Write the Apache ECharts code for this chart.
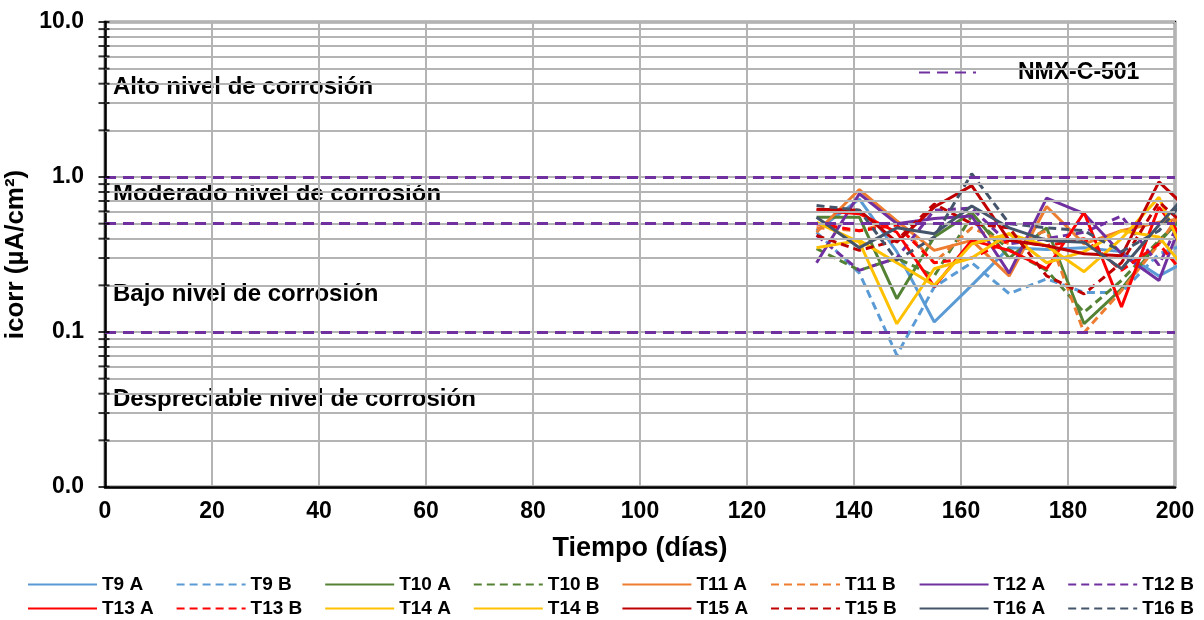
<!DOCTYPE html>
<html><head><meta charset="utf-8">
<script src="https://cdn.jsdelivr.net/npm/echarts@6/dist/echarts.min.js"></script>
<style>html,body{margin:0;padding:0;background:#fff}#c{width:1204px;height:620px}</style>
</head><body><div id="c"></div>
<script>
// ---- data ----
const days = [133, 141, 148, 155, 162, 169, 176, 183, 190, 197, 204];
const T9A  = [0.45, 0.72, 0.33, 0.116, 0.20, 0.35, 0.34, 0.35, 0.33, 0.23, 0.31];
const T9B  = [0.44, 0.24, 0.071, 0.195, 0.28, 0.177, 0.22, 0.18, 0.18, 0.32, 0.39];
const T10A = [0.55, 0.55, 0.164, 0.41, 0.59, 0.30, 0.47, 0.113, 0.19, 0.38, 0.69];
const T10B = [0.345, 0.25, 0.30, 0.23, 0.56, 0.34, 0.25, 0.134, 0.215, 0.39, 0.66];
const T11A = [0.44, 0.83, 0.52, 0.336, 0.39, 0.23, 0.645, 0.37, 0.45, 0.51, 0.56];
const T11B = [0.47, 0.45, 0.52, 0.28, 0.47, 0.37, 0.45, 0.099, 0.185, 0.37, 0.82];
const T12A = [0.28, 0.78, 0.50, 0.54, 0.56, 0.24, 0.73, 0.58, 0.32, 0.215, 0.92];
const T12B = [0.42, 0.25, 0.30, 0.61, 0.63, 0.37, 0.40, 0.44, 0.56, 0.27, 0.90];
const T13A = [0.61, 0.58, 0.44, 0.196, 0.39, 0.336, 0.256, 0.59, 0.145, 0.64, 0.31];
const T13B = [0.50, 0.45, 0.49, 0.28, 0.30, 0.39, 0.36, 0.40, 0.25, 0.37, 0.19];
const T14A = [0.51, 0.38, 0.113, 0.256, 0.30, 0.43, 0.36, 0.245, 0.40, 0.74, 0.21];
const T14B = [0.35, 0.39, 0.28, 0.20, 0.37, 0.43, 0.28, 0.33, 0.45, 0.41, 0.21];
const T15A = [0.62, 0.61, 0.38, 0.64, 0.88, 0.39, 0.36, 0.32, 0.31, 0.93, 0.55];
const T15B = [0.42, 0.336, 0.39, 0.67, 0.50, 0.47, 0.23, 0.176, 0.28, 0.69, 0.42];
const T16A = [0.55, 0.35, 0.47, 0.43, 0.65, 0.47, 0.39, 0.38, 0.256, 0.49, 0.91];
const T16B = [0.655, 0.61, 0.29, 0.41, 1.05, 0.50, 0.47, 0.45, 0.33, 0.45, 0.88];

const seriesNames = ['T9 A','T9 B','T10 A','T10 B','T11 A','T11 B','T12 A','T12 B',
                     'T13 A','T13 B','T14 A','T14 B','T15 A','T15 B','T16 A','T16 B'];
const seriesValues = [T9A,T9B,T10A,T10B,T11A,T11B,T12A,T12B,T13A,T13B,T14A,T14B,T15A,T15B,T16A,T16B];
const seriesDashed = [false,true,false,true,false,true,false,true,false,true,false,false,false,true,false,true];
const seriesColors = ['#5B9BD5','#5B9BD5','#548235','#548235','#ED7D31','#ED7D31','#7030A0','#7030A0',
                      '#FF0000','#FF0000','#FFC000','#FFC000','#C00000','#C00000','#44546A','#44546A'];

const yTickLabels = {0.01:'0.0', 0.1:'0.1', 1:'1.0', 10:'10.0'};
const thresholds = [1.0, 0.5, 0.1];
const thresholdName = 'NMX-C-501';
const minorGrid = [0.02,0.03,0.04,0.05,0.06,0.07,0.08,0.09,
                   0.2,0.3,0.4,0.5,0.6,0.7,0.8,0.9,
                   2,3,4,5,6,7,8,9];
const axisTickValues = [0.01,0.1,1,10].concat(minorGrid);
const zoneLabels = ['Alto nivel de corrosión','Moderado nivel de corrosión',
                    'Bajo nivel de corrosión','Despreciable nivel de corrosión'];

// ---- chart ----
const FONT = '"Liberation Sans", Arial, sans-serif';
const chart = echarts.init(document.getElementById('c'), null, {renderer:'canvas'});

const series = [];
series.push({
  type:'line', data:[], silent:true, z:1,
  markLine:{ silent:true, symbol:'none', animation:false, label:{show:false},
    lineStyle:{color:'#b4b4b4', width:2, type:'solid'},
    data: minorGrid.map(v=>({yAxis:v})) }
});
series.push({
  name: thresholdName, type:'line', data:[], symbol:'none', z:4,
  lineStyle:{color:'#7030A0', width:3, type:[11,7]},
  itemStyle:{color:'#7030A0'},
  markLine:{ silent:true, symbol:'none', animation:false, label:{show:false},
    lineStyle:{color:'#7030A0', width:3, type:[11,7]},
    data: thresholds.map(v=>({yAxis:v})) }
});
seriesNames.forEach((n,i)=>{
  series.push({
    name:n, type:'line', symbol:'none', z:3, clip:true,
    data: days.map((d,j)=>[d, seriesValues[i][j]]),
    lineStyle:{color:seriesColors[i], width:3, type: seriesDashed[i] ? [8,5] : 'solid'},
    itemStyle:{color:seriesColors[i]}
  });
});
series.push({
  type:'scatter', silent:true, clip:false, z:6, symbol:'rect', symbolSize:[11,2],
  symbolOffset:[-1,0], itemStyle:{color:'#000'},
  data: axisTickValues.map(v=>[0,v])
});

const legends = seriesNames.map((n,i)=>({
  data:[n], left: 27 + (i%8)*148.6, top: i<8 ? 575 : 599,
  itemWidth:69, itemHeight:14, itemGap:0, padding:0,
  itemStyle:{opacity:0},
  textStyle:{fontFamily:FONT, fontWeight:'bold', fontSize:19, color:'#000'}
}));
legends.push({
  data:[thresholdName], left:918, top:61, itemWidth:57, itemHeight:14, padding:0,
  itemStyle:{opacity:0},
  textStyle:{fontFamily:FONT, fontWeight:'bold', fontSize:23, color:'#000', padding:[0,0,0,37]}
});

const zoneY = [88, 195, 295, 400];
const graphic = zoneLabels.map((t,i)=>({
  type:'text', left:113, top: zoneY[i]-13, silent:true,
  style:{text:t, fill:'#000', font:'bold 24px ' + FONT}
}));

chart.setOption({
  animation:false,
  backgroundColor:'#fff',
  grid:{left:105, right:29, top:22, bottom:133, show:true, borderColor:'#000', borderWidth:2.5,
        backgroundColor:'transparent', containLabel:false, outerBoundsMode:'none'},
  legend: legends,
  graphic: graphic,
  xAxis:{
    type:'value', min:0, max:200, interval:20,
    name:'Tiempo (días)', nameLocation:'middle', nameGap:48,
    nameTextStyle:{fontFamily:FONT, fontWeight:'bold', fontSize:27, color:'#000'},
    axisLine:{show:true, lineStyle:{color:'#000', width:2.5}},
    axisTick:{show:false},
    axisLabel:{fontFamily:FONT, fontWeight:'bold', fontSize:23, color:'#000', margin:13},
    splitLine:{show:true, lineStyle:{color:'#b4b4b4', width:2}}
  },
  yAxis:{
    type:'log', logBase:10, min:0.01, max:10,
    name:'icorr (µA/cm²)', nameLocation:'middle', nameGap:72, nameRotate:90,
    nameTextStyle:{fontFamily:FONT, fontWeight:'bold', fontSize:26, color:'#000'},
    axisLine:{show:true, lineStyle:{color:'#000', width:2.5}},
    axisTick:{show:false},
    axisLabel:{fontFamily:FONT, fontWeight:'bold', fontSize:23, color:'#000', margin:21,
      formatter: v => { const k = Object.keys(yTickLabels).find(x=>Math.abs(Math.log10(+x)-Math.log10(v))<1e-6); return k!==undefined ? yTickLabels[k] : ''; }},
    splitLine:{show:true, lineStyle:{color:'#b4b4b4', width:2}}
  },
  series: series
});
</script></body></html>
